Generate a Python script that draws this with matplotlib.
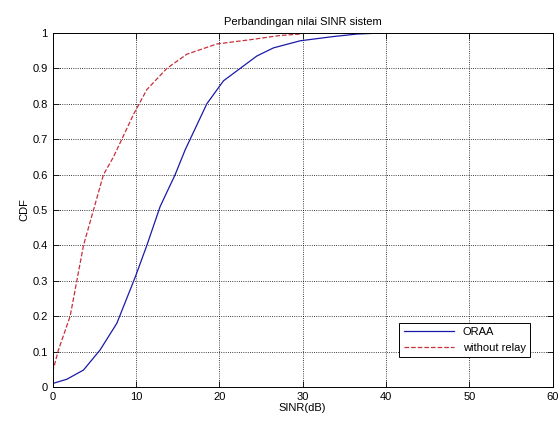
import matplotlib
matplotlib.use('Agg')
import matplotlib.pyplot as plt

# SINR (dB) / CDF values
sinr_oraa = [0, 1.7, 3.7, 5.7, 7.7, 9.9, 11.3, 12.9, 14.7, 15.9, 16.5, 18.5, 20.5,
             22.5, 24.5, 26.5, 29.7, 33.7, 36.5, 39.5]
cdf_oraa = [0.01, 0.022, 0.048, 0.105, 0.18, 0.31, 0.40, 0.51, 0.60, 0.67, 0.70, 0.80, 0.865,
            0.90, 0.935, 0.958, 0.978, 0.99, 0.997, 1.0]

sinr_norelay = [0, 0.7, 2.1, 3.7, 4.9, 6.1, 7.3, 8.3, 9.7, 11.3, 13.7, 16.1, 19.7,
                23.7, 27.3, 29.7]
cdf_norelay = [0.043, 0.105, 0.20, 0.40, 0.50, 0.60, 0.65, 0.70, 0.77, 0.84, 0.90, 0.94, 0.969,
               0.981, 0.993, 0.997]

xticks = [0, 10, 20, 30, 40, 50, 60]
yticks = [0, 0.1, 0.2, 0.3, 0.4, 0.5, 0.6, 0.7, 0.8, 0.9, 1]
ytick_labels = ['0', '0.1', '0.2', '0.3', '0.4', '0.5', '0.6', '0.7', '0.8', '0.9', '1']

plt.rcParams['font.family'] = ['Liberation Sans', 'DejaVu Sans']
plt.rcParams['font.size'] = 8

fig = plt.figure(figsize=(5.6, 4.23), dpi=100)
ax = fig.add_axes([0.094, 0.085, 0.893, 0.837])

ax.plot(sinr_oraa, cdf_oraa, '-', color='#1a1aa8', lw=0.9, label='ORAA')
ax.plot(sinr_norelay, cdf_norelay, '--', color='#c8303a', lw=0.9, label='without relay')

ax.set_xlim(0, 60)
ax.set_ylim(0, 1)
ax.set_xticks(xticks)
ax.set_yticks(yticks)
ax.set_yticklabels(ytick_labels)
ax.tick_params(direction='in', length=4, width=0.6, top=True, right=True)
ax.grid(True, linestyle=':', color='black', lw=0.6)
for s in ax.spines.values():
    s.set_linewidth(0.7)

ax.set_title('Perbandingan nilai SINR sistem', fontsize=8)
ax.set_xlabel('SINR(dB)', labelpad=1)
ax.set_ylabel('CDF', labelpad=2)

leg = ax.legend(loc='lower right', bbox_to_anchor=(0.955, 0.085), fancybox=False,
                edgecolor='black', framealpha=1, borderaxespad=0, handlelength=4.5,
                fontsize=8)
leg.get_frame().set_linewidth(0.7)

fig.savefig('out.png', dpi=100)
